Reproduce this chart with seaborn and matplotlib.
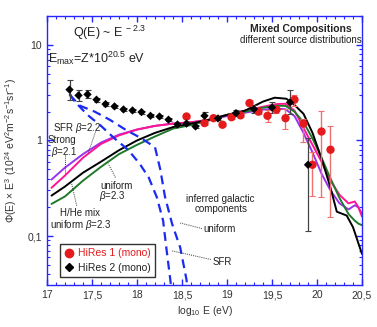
import numpy as np
import matplotlib
matplotlib.use("Agg")
import matplotlib.pyplot as plt
import matplotlib.ticker as mticker
from matplotlib.lines import Line2D
import seaborn as sns

# ---------------- data ----------------
# HiRes 2 (mono), black diamonds
hr2_x = [17.25, 17.35, 17.45, 17.55, 17.65, 17.75, 17.85, 17.95, 18.05, 18.15, 18.25,
         18.35, 18.45, 18.55, 18.65, 18.75, 18.9, 19.1, 19.3, 19.5, 19.7, 19.9]
hr2_y = [3.40, 2.96, 3.03, 2.67, 2.40, 2.27, 2.11, 2.06, 1.98, 1.81, 1.78,
         1.65, 1.47, 1.50, 1.40, 1.81, 1.70, 1.93, 2.13, 2.21, 2.50, 0.557]
hr2_lo = [2.62, 2.60, 2.75, 2.55, 2.30, 2.18, 2.03, 1.98, 1.91, 1.75, 1.72,
          1.60, 1.43, 1.46, 1.35, 1.65, 1.63, 1.80, 1.95, 1.95, 1.90, 0.112]
hr2_hi = [4.25, 3.35, 3.35, 2.80, 2.50, 2.36, 2.19, 2.14, 2.05, 1.87, 1.84,
          1.70, 1.52, 1.55, 1.45, 2.00, 1.78, 2.10, 2.35, 2.50, 3.40, 1.05]

# HiRes 1 (mono), red circles
hr1_x = [18.55, 18.75, 18.85, 18.95, 19.05, 19.15, 19.25, 19.35, 19.45, 19.55,
         19.65, 19.75, 19.85, 19.95, 20.05, 20.15]
hr1_y = [1.78, 1.52, 1.71, 1.46, 1.75, 1.83, 2.46, 2.00, 1.81, 2.10,
         1.71, 2.67, 1.50, 0.557, 1.24, 0.80]
hr1_lo = [1.70, 1.45, 1.63, 1.40, 1.68, 1.75, 2.30, 1.88, 1.55, 1.95,
          1.33, 2.30, 0.96, 0.26, 0.255, 0.16]
hr1_hi = [1.86, 1.60, 1.80, 1.53, 1.83, 1.92, 2.62, 2.13, 2.06, 2.30,
          2.15, 3.00, 1.69, 0.75, 2.03, 1.41]

# model curves (mixed compositions)
mod_x = [17.05, 17.2, 17.4, 17.6, 17.8, 18.0, 18.2, 18.4, 18.6, 18.8, 19.0, 19.2, 19.4,
         19.55, 19.65, 19.75, 19.85, 19.95, 20.05, 20.15, 20.25, 20.35, 20.42, 20.46, 20.5]
sfr_y = [0.39, 0.52, 0.72, 0.95, 1.15, 1.30, 1.42, 1.50, 1.55, 1.63, 1.80, 1.95, 2.10,
         2.15, 2.12, 1.80, 1.20, 0.75, 0.45, 0.30, 0.22, 0.19, 0.21, 0.20, 0.17]
strong_y = [0.32, 0.43, 0.66, 0.92, 1.13, 1.30, 1.42, 1.50, 1.55, 1.65, 1.85, 2.05, 2.25,
            2.40, 2.42, 2.05, 1.35, 0.90, 0.60, 0.38, 0.27, 0.22, 0.23, 0.20, 0.16]
uniform_y = [0.217, 0.26, 0.38, 0.53, 0.72, 0.90, 1.10, 1.33, 1.45, 1.62, 1.85, 2.0, 2.2,
             2.3, 2.3, 2.0, 1.55, 1.05, 0.66, 0.40, 0.25, 0.17, 0.145, 0.135, 0.13]
hhe_x = [17.05, 17.2, 17.4, 17.6, 17.8, 18.0, 18.2, 18.4, 18.6, 18.8, 19.0, 19.2, 19.4,
         19.53, 19.66, 19.75, 19.85, 19.95, 20.05, 20.15, 20.22, 20.33, 20.4, 20.5]
hhe_y = [0.265, 0.33, 0.46, 0.60, 0.79, 1.0, 1.20, 1.38, 1.50, 1.65, 1.85, 2.05, 2.55,
         2.80, 2.73, 2.35, 1.90, 1.20, 0.65, 0.32, 0.18, 0.164, 0.124, 0.065]

# inferred galactic components (dashed)
gal_sfr_x = [17.25, 17.3, 17.45, 17.6, 17.75, 17.9, 18.03, 18.13, 18.22, 18.29, 18.33, 18.37, 18.40]
gal_sfr_y = [3.1, 2.6, 1.85, 1.42, 1.05, 0.80, 0.57, 0.41, 0.255, 0.145, 0.07, 0.035, 0.02]
gal_uni_x = [17.25, 17.37, 17.53, 17.7, 17.87, 18.05, 18.2, 18.26, 18.31, 18.39, 18.48, 18.55, 18.58]
gal_uni_y = [3.0, 2.3, 2.0, 1.64, 1.30, 1.05, 0.85, 0.49, 0.26, 0.134, 0.076, 0.035, 0.02]

# ---------------- plot ----------------
sns.set_style("ticks")
plt.rcParams['font.family'] = ['Liberation Sans', 'DejaVu Sans']
plt.rcParams['mathtext.fontset'] = 'custom'
plt.rcParams['mathtext.rm'] = 'Liberation Sans'
plt.rcParams['mathtext.it'] = 'Liberation Sans:italic'

fig = plt.figure(figsize=(3.77, 3.27), dpi=100)
ax = fig.add_axes([0.1247, 0.128, 0.8355, 0.823])

blue = '#2626ff'
curve_col = {'purple': '#9933ee', 'pink': '#ff1493', 'black': 'black', 'green': '#1e7a2a'}

sns.lineplot(x=mod_x, y=sfr_y, color=curve_col['purple'], lw=1.4, sort=False, ax=ax)
sns.lineplot(x=mod_x, y=strong_y, color=curve_col['pink'], lw=1.4, sort=False, ax=ax)
sns.lineplot(x=mod_x, y=uniform_y, color=curve_col['green'], lw=1.4, sort=False, ax=ax)
sns.lineplot(x=hhe_x, y=hhe_y, color=curve_col['black'], lw=1.4, sort=False, ax=ax)

for gx, gy in [(gal_sfr_x, gal_sfr_y), (gal_uni_x, gal_uni_y)]:
    sns.lineplot(x=gx, y=gy, color='#1a2cf0', lw=1.6, sort=False, ax=ax,
                 linestyle=(0, (4, 2.5)))

# error bars
hr2_err = [np.array(hr2_y) - np.array(hr2_lo), np.array(hr2_hi) - np.array(hr2_y)]
hr1_err = [np.array(hr1_y) - np.array(hr1_lo), np.array(hr1_hi) - np.array(hr1_y)]
ax.errorbar(hr2_x, hr2_y, yerr=hr2_err, fmt='none', ecolor='#444444', elinewidth=0.9,
            capsize=2, capthick=0.8, zorder=4)
ax.errorbar(hr1_x, hr1_y, yerr=hr1_err, fmt='none', ecolor='#f07070', elinewidth=1.0,
            capsize=2, capthick=0.8, zorder=4)

sns.scatterplot(x=hr1_x, y=hr1_y, color='#e41a1c', marker='o', s=36, edgecolor='none',
                ax=ax, zorder=6)
sns.scatterplot(x=hr2_x, y=hr2_y, color='black', marker='D', s=18, edgecolor='none',
                ax=ax, zorder=7)

ax.set_yscale('log')
ax.set_xlim(17, 20.5)
ax.set_ylim(0.0307, 20)

ax.xaxis.set_major_locator(mticker.MultipleLocator(0.5))
ax.xaxis.set_minor_locator(mticker.MultipleLocator(0.1))
ax.xaxis.set_major_formatter(mticker.FuncFormatter(
    lambda v, p: ('%g' % v).replace('.', ',')))
ax.yaxis.set_major_locator(mticker.FixedLocator([0.1, 1, 10]))
ax.yaxis.set_major_formatter(mticker.FixedFormatter(['0,1', '1', '10']))
ax.yaxis.set_minor_locator(mticker.LogLocator(base=10, subs=np.arange(2, 10)))
ax.yaxis.set_minor_formatter(mticker.NullFormatter())

for s in ax.spines.values():
    s.set_color(blue)
    s.set_linewidth(1.0)
ax.tick_params(which='both', direction='in', top=True, right=True, color=blue,
               labelsize=7.5, labelcolor='#333333')
ax.tick_params(which='major', length=4, width=1)
ax.tick_params(which='minor', length=2.5, width=0.8)

ax.set_xlabel('log$_{10}$ E (eV)', fontsize=7.5, color='#333333', labelpad=3)
ax.set_ylabel(r'$\Phi$(E) $\times$ E$^3$ (10$^{24}$ eV$^2$m$^{-2}$s$^{-1}$sr$^{-1}$)',
              fontsize=7.5, color='#333333')
ax.yaxis.set_label_coords(-0.088, 0.5)

tc = '#222222'
ax.text(17.29, 13.2, 'Q(E) ~ E$^{\\ -2.3}$', fontsize=9, color=tc, va='center')
ax.text(17.01, 7.3, 'E$_{\\rm max}$=Z*10$^{20.5}$ eV', fontsize=9, color=tc, va='center')
ax.text(20.39, 14.5, 'Mixed Compositions', fontsize=7.5, fontweight='bold', color=tc,
        ha='right', va='center')
ax.text(20.5, 11.1, 'different source distributions', fontsize=7, color=tc,
        ha='right', va='center')

ax.text(17.07, 1.34, r'SFR $\beta$=2.2', fontsize=7, color=tc, va='center')
ax.text(17.01, 1.0, 'Strong', fontsize=7, color=tc, va='center')
ax.text(17.04, 0.75, r'$\beta$=2.1', fontsize=7, color=tc, va='center')
ax.text(17.59, 0.338, 'uniform', fontsize=7, color=tc, va='center')
ax.text(17.73, 0.26, r'$\beta$=2.3', fontsize=7, color=tc, va='center', ha='center')
ax.text(17.37, 0.176, 'H/He mix', fontsize=7, color=tc, va='center', ha='center')
ax.text(17.37, 0.132, r'uniform $\beta$=2.3', fontsize=7, color=tc, va='center', ha='center')
ax.text(18.93, 0.247, 'inferred galactic', fontsize=7, color=tc, va='center', ha='center')
ax.text(18.93, 0.194, 'components', fontsize=7, color=tc, va='center', ha='center')
ax.text(18.74, 0.12, 'uniform', fontsize=7, color=tc, va='center')
ax.text(18.84, 0.054, 'SFR', fontsize=7, color=tc, va='center')

# dotted leader lines
leaders = [((17.54, 17.46), (1.24, 0.75)),
           ((17.2, 17.2), (0.71, 0.46)),
           ((17.33, 17.27), (0.208, 0.366)),
           ((17.76, 17.68), (0.41, 0.57)),
           ((18.72, 18.48), (0.12, 0.137)),
           ((18.82, 18.39), (0.057, 0.07))]
for lx, ly in leaders:
    ax.plot(lx, ly, color='#333333', lw=0.7, ls=(0, (1, 1.2)), zorder=3)

handles = [Line2D([], [], color='#e41a1c', marker='o', ls='none', markersize=6),
           Line2D([], [], color='black', marker='D', ls='none', markersize=4.5)]
leg = ax.legend(handles, ['HiRes 1 (mono)', 'HiRes 2 (mono)'], loc='lower left',
                bbox_to_anchor=(0.025, 0.012), fontsize=7.5, frameon=True, fancybox=False,
                borderpad=0.4, handletextpad=0.3, handlelength=1.0, labelspacing=0.4)
leg.get_frame().set_edgecolor('black')
leg.get_frame().set_linewidth(1.0)
leg.get_texts()[0].set_color('#e41a1c')
leg.get_texts()[1].set_color('#222222')

fig.savefig('out.png', dpi=100)
